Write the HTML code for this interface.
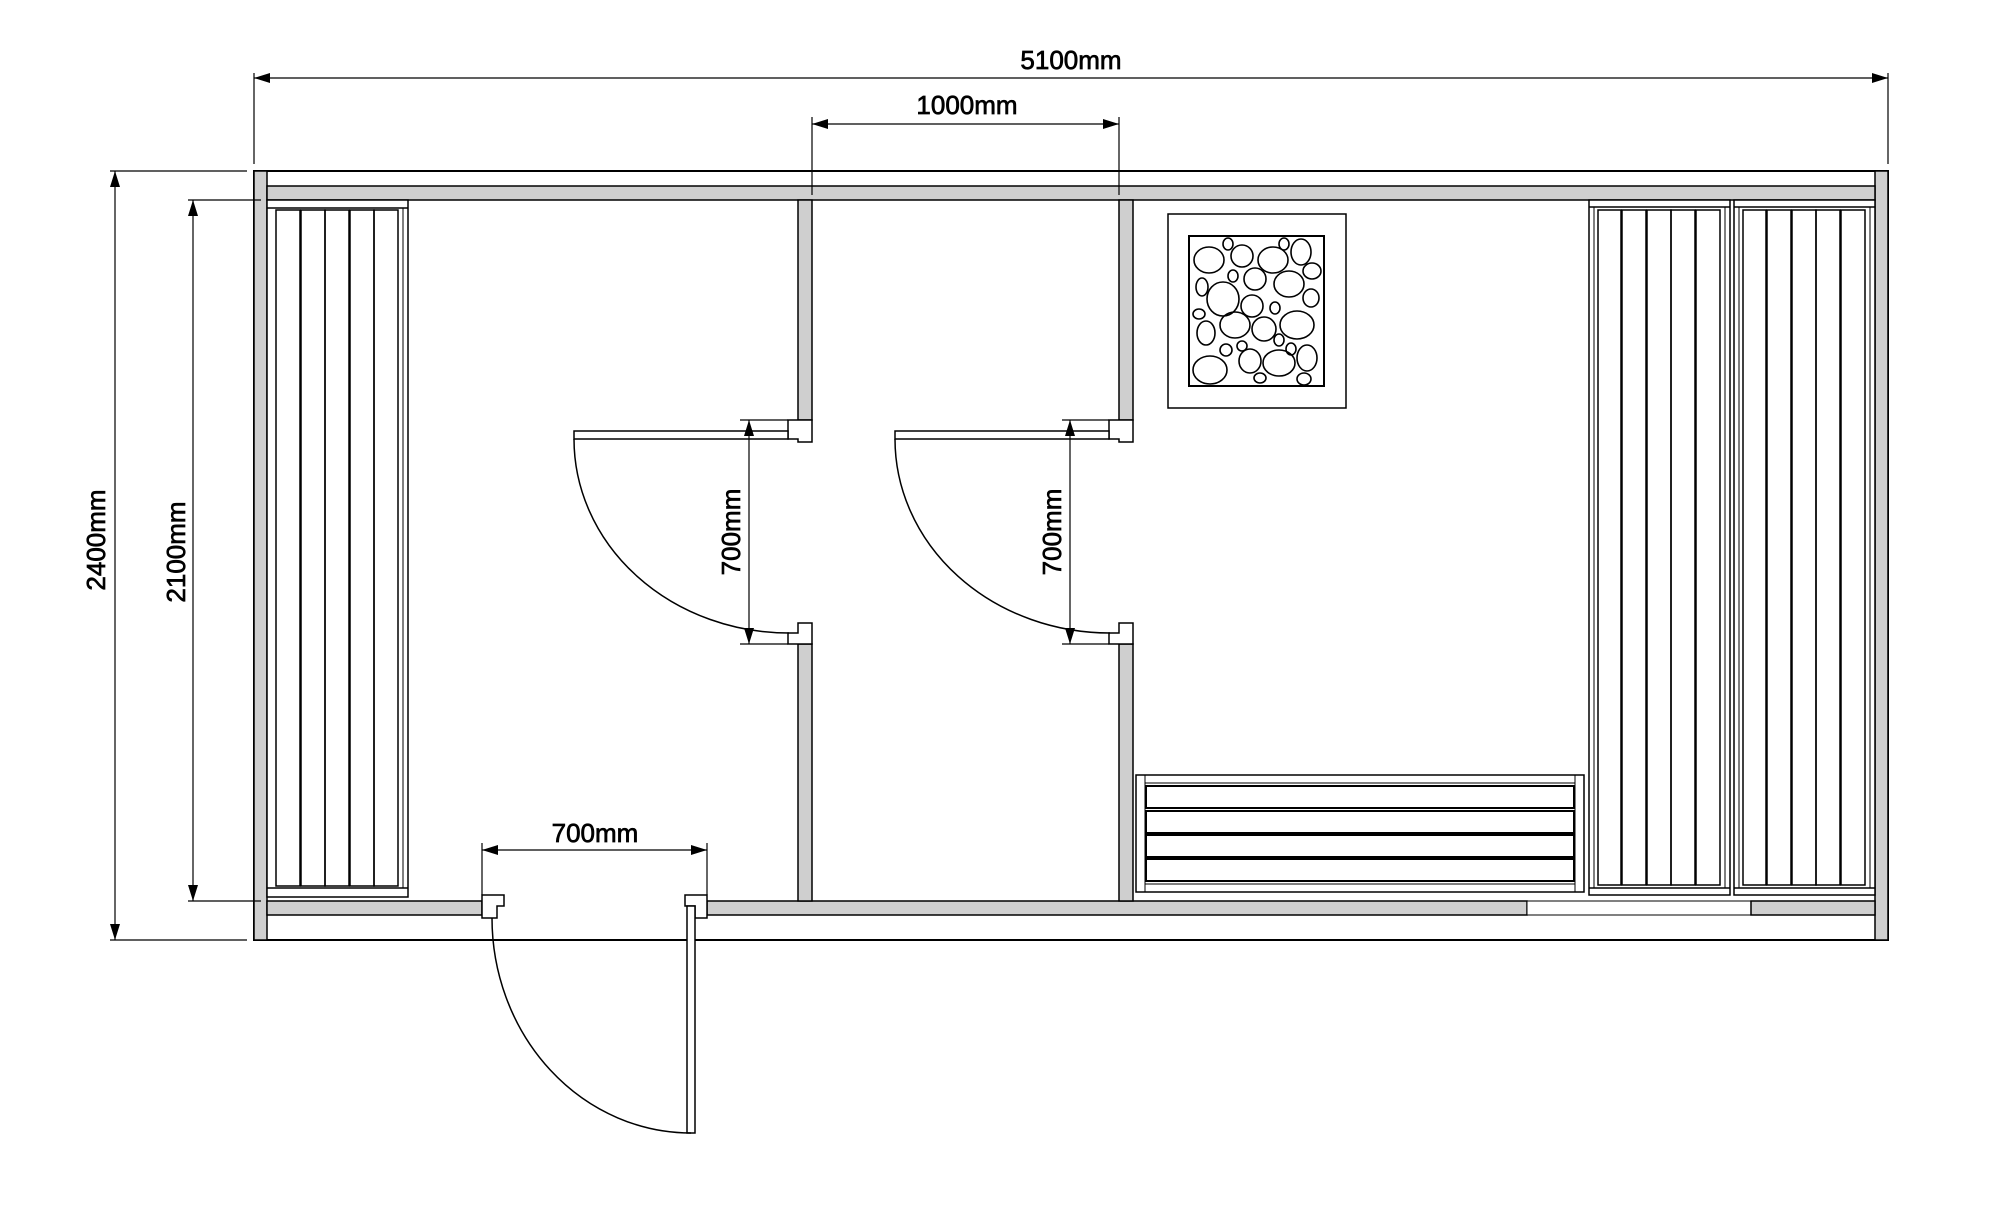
<!DOCTYPE html>
<html><head><meta charset="utf-8"><style>
html,body{margin:0;padding:0;background:#fff;}
svg{display:block;}
text{font-family:"Liberation Sans",sans-serif;font-size:26px;fill:#000;stroke:#000;stroke-width:0.7;}
</style></head><body>
<svg width="2000" height="1215" viewBox="0 0 2000 1215" xmlns="http://www.w3.org/2000/svg">
<defs>
<marker id="a" viewBox="0 0 16 10" refX="16" refY="5" markerWidth="16" markerHeight="10" markerUnits="userSpaceOnUse" orient="auto-start-reverse"><path d="M0,0 L16,5 L0,10 z" fill="#000"/></marker>
</defs>
<g stroke="#000" fill="none">
<rect x="254" y="171" width="1634" height="769" stroke-width="2" fill="#fff"/>
<rect x="254" y="171" width="13" height="769" fill="#cfcfcf" stroke-width="1.5"/>
<rect x="1875" y="171" width="13" height="769" fill="#cfcfcf" stroke-width="1.5"/>
<rect x="267" y="186" width="1608" height="14" fill="#cfcfcf" stroke-width="1.5"/>
<rect x="267" y="901" width="215" height="14" fill="#cfcfcf" stroke-width="1.5"/>
<rect x="707" y="901" width="820" height="14" fill="#cfcfcf" stroke-width="1.5"/>
<rect x="1527" y="901" width="224" height="14" fill="#fff" stroke-width="1"/>
<rect x="1751" y="901" width="124" height="14" fill="#cfcfcf" stroke-width="1.5"/>
<rect x="798" y="200" width="14" height="220" fill="#cfcfcf" stroke-width="1.5"/>
<rect x="798" y="644" width="14" height="257" fill="#cfcfcf" stroke-width="1.5"/>
<rect x="1119" y="200" width="14" height="220" fill="#cfcfcf" stroke-width="1.5"/>
<rect x="1119" y="644" width="14" height="257" fill="#cfcfcf" stroke-width="1.5"/>
<path d="M788,420 H812 V442 H798 V439 H788 Z" fill="#fff" stroke-width="1.5"/>
<path d="M798,623 H812 V644 H788 V633 H798 Z" fill="#fff" stroke-width="1.5"/>
<path d="M1109,420 H1133 V442 H1119 V439 H1109 Z" fill="#fff" stroke-width="1.5"/>
<path d="M1119,623 H1133 V644 H1109 V633 H1119 Z" fill="#fff" stroke-width="1.5"/>
<rect x="574" y="431" width="214" height="8" fill="#fff" stroke-width="1.5"/>
<path d="M574,439 A215,194 0 0 0 789,633" stroke-width="1.5"/>
<rect x="895" y="431" width="214" height="8" fill="#fff" stroke-width="1.5"/>
<path d="M895,439 A215,194 0 0 0 1110,633" stroke-width="1.5"/>
<path d="M482,895 H504 V906 H497 V918 H482 Z" fill="#fff" stroke-width="1.5"/>
<path d="M685,895 H707 V918 H695 V906 H685 Z" fill="#fff" stroke-width="1.5"/>
<rect x="687" y="906" width="8" height="227" fill="#fff" stroke-width="1.5"/>
<path d="M492,918 A199,215 0 0 0 691,1133" stroke-width="1.5"/>
<rect x="267" y="200" width="141" height="697" fill="#fff" stroke-width="1.5"/>
<line x1="267" y1="208" x2="408" y2="208" stroke-width="1.5"/>
<line x1="267" y1="888" x2="408" y2="888" stroke-width="1.5"/>
<g stroke-width="1.5">
<rect x="276" y="210" width="24" height="676"/><rect x="301" y="210" width="24" height="676"/><rect x="325" y="210" width="24" height="676"/><rect x="350" y="210" width="24" height="676"/><rect x="374" y="210" width="24" height="676"/>
</g>
<line x1="403" y1="208" x2="403" y2="888" stroke-width="1"/>
<rect x="1589" y="200" width="141" height="695" fill="#fff" stroke-width="1.5"/>
<line x1="1589" y1="207" x2="1730" y2="207" stroke-width="1.5"/>
<line x1="1589" y1="888" x2="1730" y2="888" stroke-width="1.5"/>
<line x1="1594" y1="207" x2="1594" y2="888" stroke-width="1"/>
<line x1="1725" y1="207" x2="1725" y2="888" stroke-width="1"/>
<g stroke-width="1.5">
<rect x="1598" y="210" width="23" height="675"/><rect x="1622" y="210" width="24" height="675"/><rect x="1647" y="210" width="24" height="675"/><rect x="1671" y="210" width="24" height="675"/><rect x="1696" y="210" width="24" height="675"/>
</g>
<rect x="1734" y="200" width="141" height="695" fill="#fff" stroke-width="1.5"/>
<line x1="1734" y1="207" x2="1875" y2="207" stroke-width="1.5"/>
<line x1="1734" y1="888" x2="1875" y2="888" stroke-width="1.5"/>
<line x1="1739" y1="207" x2="1739" y2="888" stroke-width="1"/>
<line x1="1870" y1="207" x2="1870" y2="888" stroke-width="1"/>
<g stroke-width="1.5">
<rect x="1743" y="210" width="23" height="675"/><rect x="1767" y="210" width="24" height="675"/><rect x="1792" y="210" width="24" height="675"/><rect x="1816" y="210" width="24" height="675"/><rect x="1841" y="210" width="24" height="675"/>
</g>
<rect x="1136" y="775" width="448" height="117" fill="#fff" stroke-width="1.5"/>
<line x1="1145" y1="775" x2="1145" y2="892" stroke-width="1"/>
<line x1="1575" y1="775" x2="1575" y2="892" stroke-width="1"/>
<line x1="1145" y1="783" x2="1575" y2="783" stroke-width="1"/>
<line x1="1145" y1="884" x2="1575" y2="884" stroke-width="1"/>
<g stroke-width="2">
<rect x="1146" y="786" width="428" height="22"/><rect x="1146" y="811" width="428" height="22"/><rect x="1146" y="835" width="428" height="22"/><rect x="1146" y="859" width="428" height="22"/>
</g>
<rect x="1168" y="214" width="178" height="194" fill="#fff" stroke-width="1.5"/>
<rect x="1189" y="236" width="135" height="150" stroke-width="2"/>
<g stroke-width="1.6">
<ellipse cx="1209" cy="260" rx="15" ry="13"/><ellipse cx="1228" cy="244" rx="5" ry="6"/><ellipse cx="1242" cy="256" rx="11" ry="11"/><ellipse cx="1273" cy="260" rx="15" ry="13"/><ellipse cx="1284" cy="244" rx="5" ry="6"/><ellipse cx="1301" cy="252" rx="10" ry="13"/><ellipse cx="1312" cy="271" rx="9" ry="8"/><ellipse cx="1233" cy="276" rx="5" ry="6"/><ellipse cx="1255" cy="279" rx="11" ry="11"/><ellipse cx="1289" cy="284" rx="15" ry="13"/><ellipse cx="1202" cy="287" rx="6" ry="9"/><ellipse cx="1223" cy="299" rx="16" ry="17"/><ellipse cx="1252" cy="306" rx="11" ry="11"/><ellipse cx="1311" cy="298" rx="8" ry="9"/><ellipse cx="1275" cy="308" rx="5" ry="6"/><ellipse cx="1199" cy="314" rx="6" ry="5"/><ellipse cx="1235" cy="325" rx="15" ry="13"/><ellipse cx="1264" cy="329" rx="12" ry="12"/><ellipse cx="1297" cy="325" rx="17" ry="14"/><ellipse cx="1206" cy="333" rx="9" ry="12"/><ellipse cx="1279" cy="340" rx="5" ry="6"/><ellipse cx="1226" cy="350" rx="6" ry="6"/><ellipse cx="1242" cy="346" rx="5" ry="5"/><ellipse cx="1291" cy="349" rx="5" ry="6"/><ellipse cx="1307" cy="358" rx="10" ry="13"/><ellipse cx="1210" cy="370" rx="17" ry="14"/><ellipse cx="1250" cy="361" rx="11" ry="12"/><ellipse cx="1279" cy="363" rx="16" ry="13"/><ellipse cx="1260" cy="378" rx="6" ry="5"/><ellipse cx="1304" cy="379" rx="7" ry="6"/>
</g>
<g stroke-width="1.2">
<line x1="254" y1="73" x2="254" y2="164"/>
<line x1="1888" y1="73" x2="1888" y2="164"/>
<line x1="254" y1="78" x2="1888" y2="78" marker-start="url(#a)" marker-end="url(#a)"/>
<line x1="812" y1="117" x2="812" y2="195"/>
<line x1="1119" y1="117" x2="1119" y2="195"/>
<line x1="812" y1="124" x2="1119" y2="124" marker-start="url(#a)" marker-end="url(#a)"/>
<line x1="110" y1="171" x2="247" y2="171"/>
<line x1="110" y1="940" x2="247" y2="940"/>
<line x1="115" y1="171" x2="115" y2="940" marker-start="url(#a)" marker-end="url(#a)"/>
<line x1="188" y1="200" x2="261" y2="200"/>
<line x1="188" y1="901" x2="261" y2="901"/>
<line x1="193" y1="200" x2="193" y2="901" marker-start="url(#a)" marker-end="url(#a)"/>
<line x1="740" y1="420" x2="788" y2="420"/>
<line x1="740" y1="644" x2="788" y2="644"/>
<line x1="749" y1="420" x2="749" y2="644" marker-start="url(#a)" marker-end="url(#a)"/>
<line x1="1062" y1="420" x2="1109" y2="420"/>
<line x1="1062" y1="644" x2="1109" y2="644"/>
<line x1="1070" y1="420" x2="1070" y2="644" marker-start="url(#a)" marker-end="url(#a)"/>
<line x1="482" y1="843" x2="482" y2="895"/>
<line x1="707" y1="843" x2="707" y2="895"/>
<line x1="482" y1="850" x2="707" y2="850" marker-start="url(#a)" marker-end="url(#a)"/>
</g>
</g>
<text x="1071" y="69" text-anchor="middle">5100mm</text>
<text x="967" y="114" text-anchor="middle">1000mm</text>
<text x="595" y="842" text-anchor="middle">700mm</text>
<text transform="translate(105,540) rotate(-90)" text-anchor="middle">2400mm</text>
<text transform="translate(185,552) rotate(-90)" text-anchor="middle">2100mm</text>
<text transform="translate(740,532) rotate(-90)" text-anchor="middle">700mm</text>
<text transform="translate(1061,532) rotate(-90)" text-anchor="middle">700mm</text>
</svg>
</body></html>
